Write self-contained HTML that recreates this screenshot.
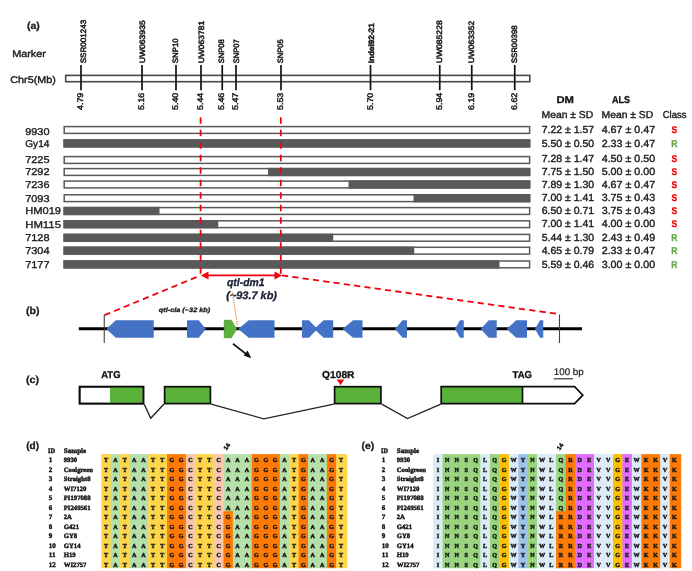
<!DOCTYPE html>
<html><head><meta charset="utf-8"><title>Figure</title>
<style>
html,body{margin:0;padding:0;background:#fff;}
body{width:692px;height:571px;overflow:hidden;}
svg{display:block;}
</style></head>
<body>
<svg width="692" height="571" viewBox="0 0 692 571" text-rendering="geometricPrecision">
<rect width="692" height="571" fill="#fff"/>
<text x="27" y="29.3" font-family='"Liberation Sans", sans-serif' font-size="10" font-weight="bold" font-style="normal" fill="#1c1c1c" text-anchor="start" textLength="12.8" lengthAdjust="spacingAndGlyphs" stroke="#1c1c1c" stroke-width="0.3">(a)</text>
<text x="12.3" y="57.3" font-family='"Liberation Sans", sans-serif' font-size="9.7" font-weight="normal" font-style="normal" fill="#1c1c1c" text-anchor="start" textLength="33.5" lengthAdjust="spacingAndGlyphs" stroke="#1c1c1c" stroke-width="0.4">Marker</text>
<text x="10.3" y="83.0" font-family='"Liberation Sans", sans-serif' font-size="9.7" font-weight="normal" font-style="normal" fill="#1c1c1c" text-anchor="start" textLength="45.5" lengthAdjust="spacingAndGlyphs" stroke="#1c1c1c" stroke-width="0.4">Chr5(Mb)</text>
<rect x="65.7" y="75.4" width="464.1" height="6.3" fill="#fff" stroke="#484848" stroke-width="1.6"/>
<line x1="81" y1="65" x2="81" y2="90.2" stroke="#111" stroke-width="1.7"/>
<text transform="translate(86.2,63.3) rotate(-90)" font-family='"Liberation Sans", sans-serif' font-size="7.8" font-weight="normal" fill="#1a1a1a" stroke="#1a1a1a" stroke-width="0.5" textLength="43.5" lengthAdjust="spacingAndGlyphs">SSR001243</text>
<text transform="translate(83.1,110) rotate(-90)" font-family='"Liberation Sans", sans-serif' font-size="8.2" font-weight="normal" fill="#1a1a1a" stroke="#1a1a1a" stroke-width="0.45" textLength="17.3" lengthAdjust="spacingAndGlyphs">4.79</text>
<line x1="142" y1="65" x2="142" y2="90.2" stroke="#111" stroke-width="1.7"/>
<text transform="translate(145.2,63.3) rotate(-90)" font-family='"Liberation Sans", sans-serif' font-size="7.8" font-weight="normal" fill="#1a1a1a" stroke="#1a1a1a" stroke-width="0.5" textLength="43" lengthAdjust="spacingAndGlyphs">UW063935</text>
<text transform="translate(144.1,110) rotate(-90)" font-family='"Liberation Sans", sans-serif' font-size="8.2" font-weight="normal" fill="#1a1a1a" stroke="#1a1a1a" stroke-width="0.45" textLength="17.3" lengthAdjust="spacingAndGlyphs">5.16</text>
<line x1="176" y1="65" x2="176" y2="90.2" stroke="#111" stroke-width="1.7"/>
<text transform="translate(178.2,63.3) rotate(-90)" font-family='"Liberation Sans", sans-serif' font-size="7.8" font-weight="normal" fill="#1a1a1a" stroke="#1a1a1a" stroke-width="0.5" textLength="25" lengthAdjust="spacingAndGlyphs">SNP10</text>
<text transform="translate(178.1,110) rotate(-90)" font-family='"Liberation Sans", sans-serif' font-size="8.2" font-weight="normal" fill="#1a1a1a" stroke="#1a1a1a" stroke-width="0.45" textLength="17.3" lengthAdjust="spacingAndGlyphs">5.40</text>
<line x1="201" y1="65" x2="201" y2="90.2" stroke="#111" stroke-width="1.7"/>
<text transform="translate(203.7,63.3) rotate(-90)" font-family='"Liberation Sans", sans-serif' font-size="7.8" font-weight="normal" fill="#1a1a1a" stroke="#1a1a1a" stroke-width="0.5" textLength="42.5" lengthAdjust="spacingAndGlyphs">UW063781</text>
<text transform="translate(203.1,110) rotate(-90)" font-family='"Liberation Sans", sans-serif' font-size="8.2" font-weight="normal" fill="#1a1a1a" stroke="#1a1a1a" stroke-width="0.45" textLength="17.3" lengthAdjust="spacingAndGlyphs">5.44</text>
<line x1="222.25" y1="65" x2="222.25" y2="90.2" stroke="#111" stroke-width="1.7"/>
<text transform="translate(223.95,63.3) rotate(-90)" font-family='"Liberation Sans", sans-serif' font-size="7.8" font-weight="normal" fill="#1a1a1a" stroke="#1a1a1a" stroke-width="0.5" textLength="24" lengthAdjust="spacingAndGlyphs">SNP08</text>
<text transform="translate(224.35,110) rotate(-90)" font-family='"Liberation Sans", sans-serif' font-size="8.2" font-weight="normal" fill="#1a1a1a" stroke="#1a1a1a" stroke-width="0.45" textLength="17.3" lengthAdjust="spacingAndGlyphs">5.46</text>
<line x1="236" y1="65" x2="236" y2="90.2" stroke="#111" stroke-width="1.7"/>
<text transform="translate(238.7,63.3) rotate(-90)" font-family='"Liberation Sans", sans-serif' font-size="7.8" font-weight="normal" fill="#1a1a1a" stroke="#1a1a1a" stroke-width="0.5" textLength="24" lengthAdjust="spacingAndGlyphs">SNP07</text>
<text transform="translate(238.1,110) rotate(-90)" font-family='"Liberation Sans", sans-serif' font-size="8.2" font-weight="normal" fill="#1a1a1a" stroke="#1a1a1a" stroke-width="0.45" textLength="17.3" lengthAdjust="spacingAndGlyphs">5.47</text>
<line x1="281" y1="65" x2="281" y2="90.2" stroke="#111" stroke-width="1.7"/>
<text transform="translate(283.2,63.3) rotate(-90)" font-family='"Liberation Sans", sans-serif' font-size="7.8" font-weight="normal" fill="#1a1a1a" stroke="#1a1a1a" stroke-width="0.5" textLength="24" lengthAdjust="spacingAndGlyphs">SNP05</text>
<text transform="translate(283.1,110) rotate(-90)" font-family='"Liberation Sans", sans-serif' font-size="8.2" font-weight="normal" fill="#1a1a1a" stroke="#1a1a1a" stroke-width="0.45" textLength="17.3" lengthAdjust="spacingAndGlyphs">5.53</text>
<line x1="370.5" y1="65" x2="370.5" y2="90.2" stroke="#111" stroke-width="1.7"/>
<text transform="translate(374.2,63.3) rotate(-90)" font-family='"Liberation Sans", sans-serif' font-size="7.8" font-weight="bold" fill="#1a1a1a" stroke="#1a1a1a" stroke-width="0.5" textLength="40" lengthAdjust="spacingAndGlyphs">Indel92-21</text>
<text transform="translate(372.6,110) rotate(-90)" font-family='"Liberation Sans", sans-serif' font-size="8.2" font-weight="normal" fill="#1a1a1a" stroke="#1a1a1a" stroke-width="0.45" textLength="17.3" lengthAdjust="spacingAndGlyphs">5.70</text>
<line x1="439.75" y1="65" x2="439.75" y2="90.2" stroke="#111" stroke-width="1.7"/>
<text transform="translate(441.95,63.3) rotate(-90)" font-family='"Liberation Sans", sans-serif' font-size="7.8" font-weight="normal" fill="#1a1a1a" stroke="#1a1a1a" stroke-width="0.5" textLength="43" lengthAdjust="spacingAndGlyphs">UW085228</text>
<text transform="translate(441.85,110) rotate(-90)" font-family='"Liberation Sans", sans-serif' font-size="8.2" font-weight="normal" fill="#1a1a1a" stroke="#1a1a1a" stroke-width="0.45" textLength="17.3" lengthAdjust="spacingAndGlyphs">5.94</text>
<line x1="471.75" y1="65" x2="471.75" y2="90.2" stroke="#111" stroke-width="1.7"/>
<text transform="translate(473.95,63.3) rotate(-90)" font-family='"Liberation Sans", sans-serif' font-size="7.8" font-weight="normal" fill="#1a1a1a" stroke="#1a1a1a" stroke-width="0.5" textLength="42.5" lengthAdjust="spacingAndGlyphs">UW063352</text>
<text transform="translate(473.85,110) rotate(-90)" font-family='"Liberation Sans", sans-serif' font-size="8.2" font-weight="normal" fill="#1a1a1a" stroke="#1a1a1a" stroke-width="0.45" textLength="17.3" lengthAdjust="spacingAndGlyphs">6.19</text>
<line x1="514.75" y1="65" x2="514.75" y2="90.2" stroke="#111" stroke-width="1.7"/>
<text transform="translate(516.95,63.3) rotate(-90)" font-family='"Liberation Sans", sans-serif' font-size="7.8" font-weight="normal" fill="#1a1a1a" stroke="#1a1a1a" stroke-width="0.5" textLength="38" lengthAdjust="spacingAndGlyphs">SSR00398</text>
<text transform="translate(516.85,110) rotate(-90)" font-family='"Liberation Sans", sans-serif' font-size="8.2" font-weight="normal" fill="#1a1a1a" stroke="#1a1a1a" stroke-width="0.45" textLength="17.3" lengthAdjust="spacingAndGlyphs">6.62</text>
<rect x="64.2" y="126.6" width="465.40000000000003" height="6.8" fill="#fff" stroke="#595959" stroke-width="1.5"/>
<text x="25.2" y="134.6" font-family='"Liberation Sans", sans-serif' font-size="9.9" font-weight="normal" font-style="normal" fill="#1c1c1c" text-anchor="start" textLength="24.3" lengthAdjust="spacingAndGlyphs" stroke="#1c1c1c" stroke-width="0.35">9930</text>
<text x="541.7" y="133.2" font-family='"Liberation Sans", sans-serif' font-size="10.3" font-weight="normal" font-style="normal" fill="#1c1c1c" text-anchor="start" textLength="52.5" lengthAdjust="spacingAndGlyphs" stroke="#1c1c1c" stroke-width="0.4">7.22 ± 1.57</text>
<text x="601.7" y="133.2" font-family='"Liberation Sans", sans-serif' font-size="10.3" font-weight="normal" font-style="normal" fill="#1c1c1c" text-anchor="start" textLength="53.5" lengthAdjust="spacingAndGlyphs" stroke="#1c1c1c" stroke-width="0.4">4.67 ± 0.47</text>
<text x="671.55" y="133.2" font-family='"Liberation Sans", sans-serif' font-size="9.8" font-weight="bold" font-style="normal" fill="#f00000" text-anchor="start" textLength="5.7" lengthAdjust="spacingAndGlyphs" stroke="#f00000" stroke-width="0.3">S</text>
<rect x="64.2" y="140.0" width="465.40000000000003" height="6.8" fill="#fff" stroke="#595959" stroke-width="1.5"/>
<rect x="63.45" y="139.25" width="466.90000000000003" height="8.3" fill="#595959"/>
<text x="25.2" y="146.70000000000002" font-family='"Liberation Sans", sans-serif' font-size="9.9" font-weight="normal" font-style="normal" fill="#1c1c1c" text-anchor="start" textLength="24.3" lengthAdjust="spacingAndGlyphs" stroke="#1c1c1c" stroke-width="0.35">Gy14</text>
<text x="541.7" y="146.6" font-family='"Liberation Sans", sans-serif' font-size="10.3" font-weight="normal" font-style="normal" fill="#1c1c1c" text-anchor="start" textLength="52.5" lengthAdjust="spacingAndGlyphs" stroke="#1c1c1c" stroke-width="0.4">5.50 ± 0.50</text>
<text x="601.7" y="146.6" font-family='"Liberation Sans", sans-serif' font-size="10.3" font-weight="normal" font-style="normal" fill="#1c1c1c" text-anchor="start" textLength="53.5" lengthAdjust="spacingAndGlyphs" stroke="#1c1c1c" stroke-width="0.4">2.33 ± 0.47</text>
<text x="671.3" y="146.6" font-family='"Liberation Sans", sans-serif' font-size="9.8" font-weight="bold" font-style="normal" fill="#6aa84f" text-anchor="start" textLength="6.2" lengthAdjust="spacingAndGlyphs" stroke="#6aa84f" stroke-width="0.3">R</text>
<rect x="64.2" y="156.6" width="465.40000000000003" height="6.8" fill="#fff" stroke="#595959" stroke-width="1.5"/>
<text x="25.2" y="162.8" font-family='"Liberation Sans", sans-serif' font-size="9.9" font-weight="normal" font-style="normal" fill="#1c1c1c" text-anchor="start" textLength="24.3" lengthAdjust="spacingAndGlyphs" stroke="#1c1c1c" stroke-width="0.35">7225</text>
<text x="541.7" y="162.1" font-family='"Liberation Sans", sans-serif' font-size="10.3" font-weight="normal" font-style="normal" fill="#1c1c1c" text-anchor="start" textLength="52.5" lengthAdjust="spacingAndGlyphs" stroke="#1c1c1c" stroke-width="0.4">7.28 ± 1.47</text>
<text x="601.7" y="162.1" font-family='"Liberation Sans", sans-serif' font-size="10.3" font-weight="normal" font-style="normal" fill="#1c1c1c" text-anchor="start" textLength="53.5" lengthAdjust="spacingAndGlyphs" stroke="#1c1c1c" stroke-width="0.4">4.50 ± 0.50</text>
<text x="671.55" y="162.1" font-family='"Liberation Sans", sans-serif' font-size="9.8" font-weight="bold" font-style="normal" fill="#f00000" text-anchor="start" textLength="5.7" lengthAdjust="spacingAndGlyphs" stroke="#f00000" stroke-width="0.3">S</text>
<rect x="64.2" y="168.6" width="465.40000000000003" height="6.8" fill="#fff" stroke="#595959" stroke-width="1.5"/>
<rect x="268" y="167.85" width="262.35" height="8.3" fill="#595959"/>
<text x="25.2" y="175.3" font-family='"Liberation Sans", sans-serif' font-size="9.9" font-weight="normal" font-style="normal" fill="#1c1c1c" text-anchor="start" textLength="24.3" lengthAdjust="spacingAndGlyphs" stroke="#1c1c1c" stroke-width="0.35">7292</text>
<text x="541.7" y="175.2" font-family='"Liberation Sans", sans-serif' font-size="10.3" font-weight="normal" font-style="normal" fill="#1c1c1c" text-anchor="start" textLength="52.5" lengthAdjust="spacingAndGlyphs" stroke="#1c1c1c" stroke-width="0.4">7.75 ± 1.50</text>
<text x="601.7" y="175.2" font-family='"Liberation Sans", sans-serif' font-size="10.3" font-weight="normal" font-style="normal" fill="#1c1c1c" text-anchor="start" textLength="53.5" lengthAdjust="spacingAndGlyphs" stroke="#1c1c1c" stroke-width="0.4">5.00 ± 0.00</text>
<text x="671.55" y="175.2" font-family='"Liberation Sans", sans-serif' font-size="9.8" font-weight="bold" font-style="normal" fill="#f00000" text-anchor="start" textLength="5.7" lengthAdjust="spacingAndGlyphs" stroke="#f00000" stroke-width="0.3">S</text>
<rect x="64.2" y="181.1" width="465.40000000000003" height="6.8" fill="#fff" stroke="#595959" stroke-width="1.5"/>
<rect x="348.5" y="180.35" width="181.85000000000002" height="8.3" fill="#595959"/>
<text x="25.2" y="188.3" font-family='"Liberation Sans", sans-serif' font-size="9.9" font-weight="normal" font-style="normal" fill="#1c1c1c" text-anchor="start" textLength="24.3" lengthAdjust="spacingAndGlyphs" stroke="#1c1c1c" stroke-width="0.35">7236</text>
<text x="541.7" y="187.7" font-family='"Liberation Sans", sans-serif' font-size="10.3" font-weight="normal" font-style="normal" fill="#1c1c1c" text-anchor="start" textLength="52.5" lengthAdjust="spacingAndGlyphs" stroke="#1c1c1c" stroke-width="0.4">7.89 ± 1.30</text>
<text x="601.7" y="187.7" font-family='"Liberation Sans", sans-serif' font-size="10.3" font-weight="normal" font-style="normal" fill="#1c1c1c" text-anchor="start" textLength="53.5" lengthAdjust="spacingAndGlyphs" stroke="#1c1c1c" stroke-width="0.4">4.67 ± 0.47</text>
<text x="671.55" y="187.7" font-family='"Liberation Sans", sans-serif' font-size="9.8" font-weight="bold" font-style="normal" fill="#f00000" text-anchor="start" textLength="5.7" lengthAdjust="spacingAndGlyphs" stroke="#f00000" stroke-width="0.3">S</text>
<rect x="64.2" y="194.79999999999998" width="465.40000000000003" height="6.8" fill="#fff" stroke="#595959" stroke-width="1.5"/>
<rect x="413.5" y="194.04999999999998" width="116.85000000000002" height="8.3" fill="#595959"/>
<text x="25.2" y="201.5" font-family='"Liberation Sans", sans-serif' font-size="9.9" font-weight="normal" font-style="normal" fill="#1c1c1c" text-anchor="start" textLength="24.3" lengthAdjust="spacingAndGlyphs" stroke="#1c1c1c" stroke-width="0.35">7093</text>
<text x="541.7" y="201.39999999999998" font-family='"Liberation Sans", sans-serif' font-size="10.3" font-weight="normal" font-style="normal" fill="#1c1c1c" text-anchor="start" textLength="52.5" lengthAdjust="spacingAndGlyphs" stroke="#1c1c1c" stroke-width="0.4">7.00 ± 1.41</text>
<text x="601.7" y="201.39999999999998" font-family='"Liberation Sans", sans-serif' font-size="10.3" font-weight="normal" font-style="normal" fill="#1c1c1c" text-anchor="start" textLength="53.5" lengthAdjust="spacingAndGlyphs" stroke="#1c1c1c" stroke-width="0.4">3.75 ± 0.43</text>
<text x="671.55" y="201.39999999999998" font-family='"Liberation Sans", sans-serif' font-size="9.8" font-weight="bold" font-style="normal" fill="#f00000" text-anchor="start" textLength="5.7" lengthAdjust="spacingAndGlyphs" stroke="#f00000" stroke-width="0.3">S</text>
<rect x="64.2" y="207.6" width="465.40000000000003" height="6.8" fill="#fff" stroke="#595959" stroke-width="1.5"/>
<rect x="63.45" y="206.85" width="96.05" height="8.3" fill="#595959"/>
<text x="25.2" y="214.3" font-family='"Liberation Sans", sans-serif' font-size="9.9" font-weight="normal" font-style="normal" fill="#1c1c1c" text-anchor="start" textLength="35.8" lengthAdjust="spacingAndGlyphs" stroke="#1c1c1c" stroke-width="0.35">HM019</text>
<text x="541.7" y="214.2" font-family='"Liberation Sans", sans-serif' font-size="10.3" font-weight="normal" font-style="normal" fill="#1c1c1c" text-anchor="start" textLength="52.5" lengthAdjust="spacingAndGlyphs" stroke="#1c1c1c" stroke-width="0.4">6.50 ± 0.71</text>
<text x="601.7" y="214.2" font-family='"Liberation Sans", sans-serif' font-size="10.3" font-weight="normal" font-style="normal" fill="#1c1c1c" text-anchor="start" textLength="53.5" lengthAdjust="spacingAndGlyphs" stroke="#1c1c1c" stroke-width="0.4">3.75 ± 0.43</text>
<text x="671.55" y="214.2" font-family='"Liberation Sans", sans-serif' font-size="9.8" font-weight="bold" font-style="normal" fill="#f00000" text-anchor="start" textLength="5.7" lengthAdjust="spacingAndGlyphs" stroke="#f00000" stroke-width="0.3">S</text>
<rect x="64.2" y="220.79999999999998" width="465.40000000000003" height="6.8" fill="#fff" stroke="#595959" stroke-width="1.5"/>
<rect x="63.45" y="220.04999999999998" width="154.8" height="8.3" fill="#595959"/>
<text x="25.2" y="227.5" font-family='"Liberation Sans", sans-serif' font-size="9.9" font-weight="normal" font-style="normal" fill="#1c1c1c" text-anchor="start" textLength="35.8" lengthAdjust="spacingAndGlyphs" stroke="#1c1c1c" stroke-width="0.35">HM115</text>
<text x="541.7" y="227.39999999999998" font-family='"Liberation Sans", sans-serif' font-size="10.3" font-weight="normal" font-style="normal" fill="#1c1c1c" text-anchor="start" textLength="52.5" lengthAdjust="spacingAndGlyphs" stroke="#1c1c1c" stroke-width="0.4">7.00 ± 1.41</text>
<text x="601.7" y="227.39999999999998" font-family='"Liberation Sans", sans-serif' font-size="10.3" font-weight="normal" font-style="normal" fill="#1c1c1c" text-anchor="start" textLength="53.5" lengthAdjust="spacingAndGlyphs" stroke="#1c1c1c" stroke-width="0.4">4.00 ± 0.00</text>
<text x="671.55" y="227.39999999999998" font-family='"Liberation Sans", sans-serif' font-size="9.8" font-weight="bold" font-style="normal" fill="#f00000" text-anchor="start" textLength="5.7" lengthAdjust="spacingAndGlyphs" stroke="#f00000" stroke-width="0.3">S</text>
<rect x="64.2" y="234.4" width="465.40000000000003" height="6.8" fill="#fff" stroke="#595959" stroke-width="1.5"/>
<rect x="63.45" y="233.65" width="269.8" height="8.3" fill="#595959"/>
<text x="25.2" y="241.10000000000002" font-family='"Liberation Sans", sans-serif' font-size="9.9" font-weight="normal" font-style="normal" fill="#1c1c1c" text-anchor="start" textLength="24.3" lengthAdjust="spacingAndGlyphs" stroke="#1c1c1c" stroke-width="0.35">7128</text>
<text x="541.7" y="241.0" font-family='"Liberation Sans", sans-serif' font-size="10.3" font-weight="normal" font-style="normal" fill="#1c1c1c" text-anchor="start" textLength="52.5" lengthAdjust="spacingAndGlyphs" stroke="#1c1c1c" stroke-width="0.4">5.44 ± 1.30</text>
<text x="601.7" y="241.0" font-family='"Liberation Sans", sans-serif' font-size="10.3" font-weight="normal" font-style="normal" fill="#1c1c1c" text-anchor="start" textLength="53.5" lengthAdjust="spacingAndGlyphs" stroke="#1c1c1c" stroke-width="0.4">2.43 ± 0.49</text>
<text x="671.3" y="241.0" font-family='"Liberation Sans", sans-serif' font-size="9.8" font-weight="bold" font-style="normal" fill="#6aa84f" text-anchor="start" textLength="6.2" lengthAdjust="spacingAndGlyphs" stroke="#6aa84f" stroke-width="0.3">R</text>
<rect x="64.2" y="247.29999999999998" width="465.40000000000003" height="6.8" fill="#fff" stroke="#595959" stroke-width="1.5"/>
<rect x="63.45" y="246.54999999999998" width="350.8" height="8.3" fill="#595959"/>
<text x="25.2" y="254.0" font-family='"Liberation Sans", sans-serif' font-size="9.9" font-weight="normal" font-style="normal" fill="#1c1c1c" text-anchor="start" textLength="24.3" lengthAdjust="spacingAndGlyphs" stroke="#1c1c1c" stroke-width="0.35">7304</text>
<text x="541.7" y="253.89999999999998" font-family='"Liberation Sans", sans-serif' font-size="10.3" font-weight="normal" font-style="normal" fill="#1c1c1c" text-anchor="start" textLength="52.5" lengthAdjust="spacingAndGlyphs" stroke="#1c1c1c" stroke-width="0.4">4.65 ± 0.79</text>
<text x="601.7" y="253.89999999999998" font-family='"Liberation Sans", sans-serif' font-size="10.3" font-weight="normal" font-style="normal" fill="#1c1c1c" text-anchor="start" textLength="53.5" lengthAdjust="spacingAndGlyphs" stroke="#1c1c1c" stroke-width="0.4">2.33 ± 0.47</text>
<text x="671.3" y="253.89999999999998" font-family='"Liberation Sans", sans-serif' font-size="9.8" font-weight="bold" font-style="normal" fill="#6aa84f" text-anchor="start" textLength="6.2" lengthAdjust="spacingAndGlyphs" stroke="#6aa84f" stroke-width="0.3">R</text>
<rect x="64.2" y="261.0" width="465.40000000000003" height="6.8" fill="#fff" stroke="#595959" stroke-width="1.5"/>
<rect x="63.45" y="260.25" width="436.05" height="8.3" fill="#595959"/>
<text x="25.2" y="267.7" font-family='"Liberation Sans", sans-serif' font-size="9.9" font-weight="normal" font-style="normal" fill="#1c1c1c" text-anchor="start" textLength="24.3" lengthAdjust="spacingAndGlyphs" stroke="#1c1c1c" stroke-width="0.35">7177</text>
<text x="541.7" y="267.59999999999997" font-family='"Liberation Sans", sans-serif' font-size="10.3" font-weight="normal" font-style="normal" fill="#1c1c1c" text-anchor="start" textLength="52.5" lengthAdjust="spacingAndGlyphs" stroke="#1c1c1c" stroke-width="0.4">5.59 ± 0.46</text>
<text x="601.7" y="267.59999999999997" font-family='"Liberation Sans", sans-serif' font-size="10.3" font-weight="normal" font-style="normal" fill="#1c1c1c" text-anchor="start" textLength="53.5" lengthAdjust="spacingAndGlyphs" stroke="#1c1c1c" stroke-width="0.4">3.00 ± 0.00</text>
<text x="671.3" y="267.59999999999997" font-family='"Liberation Sans", sans-serif' font-size="9.8" font-weight="bold" font-style="normal" fill="#6aa84f" text-anchor="start" textLength="6.2" lengthAdjust="spacingAndGlyphs" stroke="#6aa84f" stroke-width="0.3">R</text>
<text x="556.5" y="102.6" font-family='"Liberation Sans", sans-serif' font-size="10" font-weight="bold" font-style="normal" fill="#111" text-anchor="start" textLength="17.5" lengthAdjust="spacingAndGlyphs" stroke="#111" stroke-width="0.3">DM</text>
<text x="612" y="102.6" font-family='"Liberation Sans", sans-serif' font-size="10" font-weight="bold" font-style="normal" fill="#111" text-anchor="start" textLength="18" lengthAdjust="spacingAndGlyphs" stroke="#111" stroke-width="0.3">ALS</text>
<text x="541.5" y="117.6" font-family='"Liberation Sans", sans-serif' font-size="10" font-weight="normal" font-style="normal" fill="#1c1c1c" text-anchor="start" textLength="51.75" lengthAdjust="spacingAndGlyphs" stroke="#1c1c1c" stroke-width="0.4">Mean ± SD</text>
<text x="601.5" y="117.6" font-family='"Liberation Sans", sans-serif' font-size="10" font-weight="normal" font-style="normal" fill="#1c1c1c" text-anchor="start" textLength="51.75" lengthAdjust="spacingAndGlyphs" stroke="#1c1c1c" stroke-width="0.4">Mean ± SD</text>
<text x="662.75" y="117.6" font-family='"Liberation Sans", sans-serif' font-size="10" font-weight="normal" font-style="normal" fill="#1c1c1c" text-anchor="start" textLength="23.75" lengthAdjust="spacingAndGlyphs" stroke="#1c1c1c" stroke-width="0.4">Class</text>
<line x1="200.6" y1="117.2" x2="200.6" y2="275" stroke="#f2000c" stroke-width="1.8" stroke-dasharray="6.5 6"/>
<line x1="280.8" y1="117.2" x2="280.8" y2="275" stroke="#f2000c" stroke-width="1.8" stroke-dasharray="6.5 6"/>
<line x1="203" y1="275.4" x2="280" y2="275.4" stroke="#f2000c" stroke-width="1.8"/>
<polygon points="201,275.4 208.5,271.4 208.5,279.4" fill="#f2000c"/>
<polygon points="282,275.4 274.5,271.4 274.5,279.4" fill="#f2000c"/>
<line x1="104.4" y1="315.2" x2="200.6" y2="275.4" stroke="#f2000c" stroke-width="1.8" stroke-dasharray="6.2 4.2"/>
<line x1="282" y1="275.4" x2="559.5" y2="314.2" stroke="#f2000c" stroke-width="1.8" stroke-dasharray="6.2 4.2"/>
<text x="227" y="286.2" font-family='"Liberation Sans", sans-serif' font-size="11" font-weight="bold" font-style="italic" fill="#1a2036" text-anchor="start" textLength="37.5" lengthAdjust="spacingAndGlyphs" stroke="#1a2036" stroke-width="0.3">qtl-dm1</text>
<text x="226.25" y="299.4" font-family='"Liberation Sans", sans-serif' font-size="11" font-weight="bold" font-style="italic" fill="#1a2036" text-anchor="start" textLength="50.75" lengthAdjust="spacingAndGlyphs" stroke="#1a2036" stroke-width="0.3">(~93.7 kb)</text>
<text x="26" y="314.0" font-family='"Liberation Sans", sans-serif' font-size="10" font-weight="bold" font-style="normal" fill="#1c1c1c" text-anchor="start" textLength="13.5" lengthAdjust="spacingAndGlyphs" stroke="#1c1c1c" stroke-width="0.3">(b)</text>
<line x1="78.75" y1="328.75" x2="582" y2="328.75" stroke="#000" stroke-width="3"/>
<line x1="104.25" y1="314.5" x2="104.25" y2="343" stroke="#404040" stroke-width="1.1"/>
<line x1="559.5" y1="314.5" x2="559.5" y2="343" stroke="#404040" stroke-width="1.1"/>
<polygon points="106.4,329.0 115.75,320.3 153.75,320.3 153.75,337.7 115.75,337.7" fill="#4472c4"/>
<polygon points="187,320.3 198.75,320.3 205.75,329.0 198.75,337.7 187,337.7" fill="#4472c4"/>
<polygon points="224.25,320.3 231.25,320.3 236.5,329.0 231.25,337.7 224.25,337.7" fill="#5bb23a" stroke="#4a9a2e" stroke-width="0.8"/>
<polygon points="238.25,329.0 248.75,320.3 274.5,320.3 274.5,337.7 248.75,337.7" fill="#4472c4"/>
<polygon points="302,320.3 309,320.3 315.8,327.5 323.6,320.3 333.2,320.3 333.2,337.7 323.6,337.7 315.8,330.5 309,337.7 302,337.7" fill="#4472c4"/>
<polygon points="342.5,329.0 353,320.3 362.5,320.3 362.5,337.7 353,337.7" fill="#4472c4"/>
<polygon points="395,329.0 402.5,320.3 407,320.3 407,337.7 402.5,337.7" fill="#4472c4"/>
<polygon points="455,329.0 460,320.3 463.75,320.3 463.75,337.7 460,337.7" fill="#4472c4"/>
<polygon points="480.75,329.0 488.75,320.3 496.75,320.3 496.75,337.7 488.75,337.7" fill="#4472c4"/>
<polygon points="506.75,329.0 516.25,320.3 527,320.3 527,337.7 516.25,337.7" fill="#4472c4"/>
<polygon points="535,329.0 540,320.3 543.25,320.3 543.25,337.7 540,337.7" fill="#4472c4"/>
<text x="158.75" y="311.5" font-family='"Liberation Sans", sans-serif' font-size="6.3" font-weight="bold" font-style="italic" fill="#1a1a1a" text-anchor="start" textLength="51.5" lengthAdjust="spacingAndGlyphs" stroke="#1a1a1a" stroke-width="0.3">qtl-cla (~32 kb)</text>
<line x1="232.5" y1="292.5" x2="237.5" y2="326" stroke="#ed7d31" stroke-width="1.3" stroke-dasharray="1.3 1.1"/>
<line x1="233" y1="343.75" x2="247.5" y2="355.2" stroke="#111" stroke-width="1.6"/>
<polygon points="251.3,358.2 243.6,355.6 247.6,350.6" fill="#111"/>
<text x="26" y="383.2" font-family='"Liberation Sans", sans-serif' font-size="10" font-weight="bold" font-style="normal" fill="#1c1c1c" text-anchor="start" textLength="13" lengthAdjust="spacingAndGlyphs" stroke="#1c1c1c" stroke-width="0.3">(c)</text>
<text x="101.25" y="378.0" font-family='"Liberation Sans", sans-serif' font-size="10" font-weight="bold" font-style="normal" fill="#111" text-anchor="start" textLength="19.25" lengthAdjust="spacingAndGlyphs" stroke="#111" stroke-width="0.3">ATG</text>
<text x="322" y="378.0" font-family='"Liberation Sans", sans-serif' font-size="10" font-weight="bold" font-style="normal" fill="#111" text-anchor="start" textLength="32.5" lengthAdjust="spacingAndGlyphs" stroke="#111" stroke-width="0.3">Q108R</text>
<text x="512.5" y="378.0" font-family='"Liberation Sans", sans-serif' font-size="10" font-weight="bold" font-style="normal" fill="#111" text-anchor="start" textLength="19.5" lengthAdjust="spacingAndGlyphs" stroke="#111" stroke-width="0.3">TAG</text>
<text x="553.75" y="375.2" font-family='"Liberation Sans", sans-serif' font-size="9.6" font-weight="normal" font-style="normal" fill="#1c1c1c" text-anchor="start" textLength="30" lengthAdjust="spacingAndGlyphs" stroke="#1c1c1c" stroke-width="0.2">100 bp</text>
<line x1="553.75" y1="378.8" x2="573" y2="378.8" stroke="#222" stroke-width="1.1"/>
<polygon points="336.75,379.5 344.25,379.5 340.5,385.2" fill="#f2000c"/>
<rect x="79.6" y="386.7" width="63.80000000000001" height="16.900000000000034" fill="#fff" stroke="#0d0d0d" stroke-width="1.7"/>
<rect x="110" y="386.7" width="32.55000000000001" height="16.900000000000034" fill="#5bb23a"/>
<rect x="79.6" y="386.7" width="63.80000000000001" height="16.900000000000034" fill="none" stroke="#0d0d0d" stroke-width="1.7"/>
<rect x="164.6" y="386.7" width="45.80000000000001" height="16.900000000000034" fill="#5bb23a" stroke="#0d0d0d" stroke-width="1.7"/>
<rect x="334.6" y="386.7" width="46.299999999999955" height="16.900000000000034" fill="#5bb23a" stroke="#0d0d0d" stroke-width="1.7"/>
<rect x="441.2" y="386.7" width="81.30000000000001" height="16.900000000000034" fill="#5bb23a"/>
<polygon points="441.2,386.7 574.6,386.7 582.8,395.15 574.6,403.6 441.2,403.6" fill="none" stroke="#0d0d0d" stroke-width="1.7" stroke-linejoin="miter"/>
<line x1="522.5" y1="386.7" x2="522.5" y2="403.6" stroke="#0d0d0d" stroke-width="1.7"/>
<polyline points="144.2,404.2 150.75,418.3 163.8,404.2" fill="none" stroke="#222" stroke-width="1.35"/>
<polyline points="211.2,404.2 263.75,418.8 333.8,404.2" fill="none" stroke="#222" stroke-width="1.35"/>
<polyline points="381.7,404.2 407.5,418.5 440.8,404.2" fill="none" stroke="#222" stroke-width="1.35"/>
<text x="26.25" y="449.0" font-family='"Liberation Sans", sans-serif' font-size="10" font-weight="bold" font-style="normal" fill="#1c1c1c" text-anchor="start" textLength="12.8" lengthAdjust="spacingAndGlyphs" stroke="#1c1c1c" stroke-width="0.3">(d)</text>
<text x="48" y="452.5" font-family='"Liberation Serif", serif' font-size="7" font-weight="bold" font-style="normal" fill="#111" text-anchor="start" textLength="7" lengthAdjust="spacingAndGlyphs" stroke="#111" stroke-width="0.4">ID</text>
<text x="63.75" y="452.5" font-family='"Liberation Serif", serif' font-size="7" font-weight="bold" font-style="normal" fill="#111" text-anchor="start" textLength="22.5" lengthAdjust="spacingAndGlyphs" stroke="#111" stroke-width="0.4">Sample</text>
<rect x="101.25" y="454.10" width="9.80" height="114.10" fill="#ffd54a"/>
<rect x="110.65" y="454.10" width="9.80" height="114.10" fill="#b5e0a9"/>
<rect x="120.05" y="454.10" width="9.80" height="114.10" fill="#ffd54a"/>
<rect x="129.45" y="454.10" width="19.20" height="114.10" fill="#b5e0a9"/>
<rect x="148.25" y="454.10" width="19.20" height="114.10" fill="#ffd54a"/>
<rect x="167.05" y="454.10" width="19.20" height="114.10" fill="#ff7a05"/>
<rect x="185.85" y="454.10" width="9.80" height="114.10" fill="#f9c8ad"/>
<rect x="195.25" y="454.10" width="19.20" height="114.10" fill="#ffd54a"/>
<rect x="214.05" y="454.10" width="9.80" height="114.10" fill="#f9c8ad"/>
<rect x="223.45" y="454.10" width="28.60" height="114.10" fill="#b5e0a9"/>
<rect x="251.65" y="454.10" width="28.60" height="114.10" fill="#ff7a05"/>
<rect x="279.85" y="454.10" width="9.80" height="114.10" fill="#b5e0a9"/>
<rect x="289.25" y="454.10" width="9.80" height="114.10" fill="#ffd54a"/>
<rect x="298.65" y="454.10" width="9.80" height="114.10" fill="#ff7a05"/>
<rect x="308.05" y="454.10" width="19.20" height="114.10" fill="#b5e0a9"/>
<rect x="326.85" y="454.10" width="9.80" height="114.10" fill="#ff7a05"/>
<rect x="336.25" y="454.10" width="10.95" height="114.10" fill="#ffd54a"/>
<rect x="223.45" y="511.15" width="9.40" height="57.05" fill="#ff7a05"/>
<text x="48.8" y="462.0541666666667" font-family='"Liberation Serif", serif' font-size="7" font-weight="bold" font-style="normal" fill="#111" text-anchor="start" stroke="#111" stroke-width="0.4">1</text>
<text x="63.75" y="462.0541666666667" font-family='"Liberation Serif", serif' font-size="6.7" font-weight="bold" font-style="normal" fill="#111" text-anchor="start" stroke="#111" stroke-width="0.4">9930</text>
<text y="462.05" x="105.95 115.35 124.75 134.15 143.55 152.95 162.35 171.75 181.15 190.55 199.95 209.35 218.75 228.15 237.55 246.95 256.35 265.75 275.15 284.55 293.95 303.35 312.75 322.15 331.55 340.95" font-family='"Liberation Serif", serif' font-size="6.1" font-weight="bold" fill="#1a1a1a" stroke="#1a1a1a" stroke-width="0.45" text-anchor="middle">TATAATTGGCTTCAAAGGGATGAAGT</text>
<text x="48.8" y="471.5625" font-family='"Liberation Serif", serif' font-size="7" font-weight="bold" font-style="normal" fill="#111" text-anchor="start" stroke="#111" stroke-width="0.4">2</text>
<text x="63.75" y="471.5625" font-family='"Liberation Serif", serif' font-size="6.7" font-weight="bold" font-style="normal" fill="#111" text-anchor="start" stroke="#111" stroke-width="0.4">Coolgreen</text>
<text y="471.56" x="105.95 115.35 124.75 134.15 143.55 152.95 162.35 171.75 181.15 190.55 199.95 209.35 218.75 228.15 237.55 246.95 256.35 265.75 275.15 284.55 293.95 303.35 312.75 322.15 331.55 340.95" font-family='"Liberation Serif", serif' font-size="6.1" font-weight="bold" fill="#1a1a1a" stroke="#1a1a1a" stroke-width="0.45" text-anchor="middle">TATAATTGGCTTCAAAGGGATGAAGT</text>
<text x="48.8" y="481.0708333333333" font-family='"Liberation Serif", serif' font-size="7" font-weight="bold" font-style="normal" fill="#111" text-anchor="start" stroke="#111" stroke-width="0.4">3</text>
<text x="63.75" y="481.0708333333333" font-family='"Liberation Serif", serif' font-size="6.7" font-weight="bold" font-style="normal" fill="#111" text-anchor="start" stroke="#111" stroke-width="0.4">Straight8</text>
<text y="481.07" x="105.95 115.35 124.75 134.15 143.55 152.95 162.35 171.75 181.15 190.55 199.95 209.35 218.75 228.15 237.55 246.95 256.35 265.75 275.15 284.55 293.95 303.35 312.75 322.15 331.55 340.95" font-family='"Liberation Serif", serif' font-size="6.1" font-weight="bold" fill="#1a1a1a" stroke="#1a1a1a" stroke-width="0.45" text-anchor="middle">TATAATTGGCTTCAAAGGGATGAAGT</text>
<text x="48.8" y="490.57916666666665" font-family='"Liberation Serif", serif' font-size="7" font-weight="bold" font-style="normal" fill="#111" text-anchor="start" stroke="#111" stroke-width="0.4">4</text>
<text x="63.75" y="490.57916666666665" font-family='"Liberation Serif", serif' font-size="6.7" font-weight="bold" font-style="normal" fill="#111" text-anchor="start" stroke="#111" stroke-width="0.4">WI7120</text>
<text y="490.58" x="105.95 115.35 124.75 134.15 143.55 152.95 162.35 171.75 181.15 190.55 199.95 209.35 218.75 228.15 237.55 246.95 256.35 265.75 275.15 284.55 293.95 303.35 312.75 322.15 331.55 340.95" font-family='"Liberation Serif", serif' font-size="6.1" font-weight="bold" fill="#1a1a1a" stroke="#1a1a1a" stroke-width="0.45" text-anchor="middle">TATAATTGGCTTCAAAGGGATGAAGT</text>
<text x="48.8" y="500.08750000000003" font-family='"Liberation Serif", serif' font-size="7" font-weight="bold" font-style="normal" fill="#111" text-anchor="start" stroke="#111" stroke-width="0.4">5</text>
<text x="63.75" y="500.08750000000003" font-family='"Liberation Serif", serif' font-size="6.7" font-weight="bold" font-style="normal" fill="#111" text-anchor="start" stroke="#111" stroke-width="0.4">PI197088</text>
<text y="500.09" x="105.95 115.35 124.75 134.15 143.55 152.95 162.35 171.75 181.15 190.55 199.95 209.35 218.75 228.15 237.55 246.95 256.35 265.75 275.15 284.55 293.95 303.35 312.75 322.15 331.55 340.95" font-family='"Liberation Serif", serif' font-size="6.1" font-weight="bold" fill="#1a1a1a" stroke="#1a1a1a" stroke-width="0.45" text-anchor="middle">TATAATTGGCTTCAAAGGGATGAAGT</text>
<text x="48.8" y="509.59583333333336" font-family='"Liberation Serif", serif' font-size="7" font-weight="bold" font-style="normal" fill="#111" text-anchor="start" stroke="#111" stroke-width="0.4">6</text>
<text x="63.75" y="509.59583333333336" font-family='"Liberation Serif", serif' font-size="6.7" font-weight="bold" font-style="normal" fill="#111" text-anchor="start" stroke="#111" stroke-width="0.4">PI249561</text>
<text y="509.60" x="105.95 115.35 124.75 134.15 143.55 152.95 162.35 171.75 181.15 190.55 199.95 209.35 218.75 228.15 237.55 246.95 256.35 265.75 275.15 284.55 293.95 303.35 312.75 322.15 331.55 340.95" font-family='"Liberation Serif", serif' font-size="6.1" font-weight="bold" fill="#1a1a1a" stroke="#1a1a1a" stroke-width="0.45" text-anchor="middle">TATAATTGGCTTCAAAGGGATGAAGT</text>
<text x="48.8" y="519.1041666666667" font-family='"Liberation Serif", serif' font-size="7" font-weight="bold" font-style="normal" fill="#111" text-anchor="start" stroke="#111" stroke-width="0.4">7</text>
<text x="63.75" y="519.1041666666667" font-family='"Liberation Serif", serif' font-size="6.7" font-weight="bold" font-style="normal" fill="#111" text-anchor="start" stroke="#111" stroke-width="0.4">2A</text>
<text y="519.10" x="105.95 115.35 124.75 134.15 143.55 152.95 162.35 171.75 181.15 190.55 199.95 209.35 218.75 228.15 237.55 246.95 256.35 265.75 275.15 284.55 293.95 303.35 312.75 322.15 331.55 340.95" font-family='"Liberation Serif", serif' font-size="6.1" font-weight="bold" fill="#1a1a1a" stroke="#1a1a1a" stroke-width="0.45" text-anchor="middle">TATAATTGGCTTCGAAGGGATGAAGT</text>
<text x="48.8" y="528.6125000000001" font-family='"Liberation Serif", serif' font-size="7" font-weight="bold" font-style="normal" fill="#111" text-anchor="start" stroke="#111" stroke-width="0.4">8</text>
<text x="63.75" y="528.6125000000001" font-family='"Liberation Serif", serif' font-size="6.7" font-weight="bold" font-style="normal" fill="#111" text-anchor="start" stroke="#111" stroke-width="0.4">G421</text>
<text y="528.61" x="105.95 115.35 124.75 134.15 143.55 152.95 162.35 171.75 181.15 190.55 199.95 209.35 218.75 228.15 237.55 246.95 256.35 265.75 275.15 284.55 293.95 303.35 312.75 322.15 331.55 340.95" font-family='"Liberation Serif", serif' font-size="6.1" font-weight="bold" fill="#1a1a1a" stroke="#1a1a1a" stroke-width="0.45" text-anchor="middle">TATAATTGGCTTCGAAGGGATGAAGT</text>
<text x="48.8" y="538.1208333333335" font-family='"Liberation Serif", serif' font-size="7" font-weight="bold" font-style="normal" fill="#111" text-anchor="start" stroke="#111" stroke-width="0.4">9</text>
<text x="63.75" y="538.1208333333335" font-family='"Liberation Serif", serif' font-size="6.7" font-weight="bold" font-style="normal" fill="#111" text-anchor="start" stroke="#111" stroke-width="0.4">GY8</text>
<text y="538.12" x="105.95 115.35 124.75 134.15 143.55 152.95 162.35 171.75 181.15 190.55 199.95 209.35 218.75 228.15 237.55 246.95 256.35 265.75 275.15 284.55 293.95 303.35 312.75 322.15 331.55 340.95" font-family='"Liberation Serif", serif' font-size="6.1" font-weight="bold" fill="#1a1a1a" stroke="#1a1a1a" stroke-width="0.45" text-anchor="middle">TATAATTGGCTTCGAAGGGATGAAGT</text>
<text x="48.8" y="547.6291666666668" font-family='"Liberation Serif", serif' font-size="7" font-weight="bold" font-style="normal" fill="#111" text-anchor="start" stroke="#111" stroke-width="0.4">10</text>
<text x="63.75" y="547.6291666666668" font-family='"Liberation Serif", serif' font-size="6.7" font-weight="bold" font-style="normal" fill="#111" text-anchor="start" stroke="#111" stroke-width="0.4">GY14</text>
<text y="547.63" x="105.95 115.35 124.75 134.15 143.55 152.95 162.35 171.75 181.15 190.55 199.95 209.35 218.75 228.15 237.55 246.95 256.35 265.75 275.15 284.55 293.95 303.35 312.75 322.15 331.55 340.95" font-family='"Liberation Serif", serif' font-size="6.1" font-weight="bold" fill="#1a1a1a" stroke="#1a1a1a" stroke-width="0.45" text-anchor="middle">TATAATTGGCTTCGAAGGGATGAAGT</text>
<text x="48.8" y="557.1375000000002" font-family='"Liberation Serif", serif' font-size="7" font-weight="bold" font-style="normal" fill="#111" text-anchor="start" stroke="#111" stroke-width="0.4">11</text>
<text x="63.75" y="557.1375000000002" font-family='"Liberation Serif", serif' font-size="6.7" font-weight="bold" font-style="normal" fill="#111" text-anchor="start" stroke="#111" stroke-width="0.4">H19</text>
<text y="557.14" x="105.95 115.35 124.75 134.15 143.55 152.95 162.35 171.75 181.15 190.55 199.95 209.35 218.75 228.15 237.55 246.95 256.35 265.75 275.15 284.55 293.95 303.35 312.75 322.15 331.55 340.95" font-family='"Liberation Serif", serif' font-size="6.1" font-weight="bold" fill="#1a1a1a" stroke="#1a1a1a" stroke-width="0.45" text-anchor="middle">TATAATTGGCTTCGAAGGGATGAAGT</text>
<text x="48.8" y="566.6458333333335" font-family='"Liberation Serif", serif' font-size="7" font-weight="bold" font-style="normal" fill="#111" text-anchor="start" stroke="#111" stroke-width="0.4">12</text>
<text x="63.75" y="566.6458333333335" font-family='"Liberation Serif", serif' font-size="6.7" font-weight="bold" font-style="normal" fill="#111" text-anchor="start" stroke="#111" stroke-width="0.4">WI2757</text>
<text y="566.65" x="105.95 115.35 124.75 134.15 143.55 152.95 162.35 171.75 181.15 190.55 199.95 209.35 218.75 228.15 237.55 246.95 256.35 265.75 275.15 284.55 293.95 303.35 312.75 322.15 331.55 340.95" font-family='"Liberation Serif", serif' font-size="6.1" font-weight="bold" fill="#1a1a1a" stroke="#1a1a1a" stroke-width="0.45" text-anchor="middle">TATAATTGGCTTCGAAGGGATGAAGT</text>
<text transform="translate(226.5,450.6) rotate(-55)" font-family='"Liberation Sans", sans-serif' font-size="6" font-weight="bold" fill="#222" stroke="#222" stroke-width="0.5">14</text>
<text x="361.5" y="449.0" font-family='"Liberation Sans", sans-serif' font-size="10" font-weight="bold" font-style="normal" fill="#1c1c1c" text-anchor="start" textLength="12.8" lengthAdjust="spacingAndGlyphs" stroke="#1c1c1c" stroke-width="0.3">(e)</text>
<text x="381" y="452.5" font-family='"Liberation Serif", serif' font-size="7" font-weight="bold" font-style="normal" fill="#111" text-anchor="start" textLength="7" lengthAdjust="spacingAndGlyphs" stroke="#111" stroke-width="0.4">ID</text>
<text x="396.75" y="452.5" font-family='"Liberation Serif", serif' font-size="7" font-weight="bold" font-style="normal" fill="#111" text-anchor="start" textLength="22.5" lengthAdjust="spacingAndGlyphs" stroke="#111" stroke-width="0.4">Sample</text>
<rect x="433.10" y="454.10" width="9.86" height="114.10" fill="#dcebf7"/>
<rect x="442.56" y="454.10" width="38.26" height="114.10" fill="#9bd47f"/>
<rect x="480.43" y="454.10" width="9.87" height="114.10" fill="#dcebf7"/>
<rect x="489.89" y="454.10" width="9.86" height="114.10" fill="#9bd47f"/>
<rect x="499.36" y="454.10" width="9.87" height="114.10" fill="#ffc000"/>
<rect x="508.82" y="454.10" width="9.87" height="114.10" fill="#dcebf7"/>
<rect x="518.29" y="454.10" width="9.86" height="114.10" fill="#9cc4e8"/>
<rect x="527.75" y="454.10" width="9.87" height="114.10" fill="#9bd47f"/>
<rect x="537.22" y="454.10" width="19.33" height="114.10" fill="#dcebf7"/>
<rect x="556.14" y="454.10" width="9.87" height="114.10" fill="#9bd47f"/>
<rect x="565.61" y="454.10" width="9.87" height="114.10" fill="#ff7a05"/>
<rect x="575.08" y="454.10" width="19.33" height="114.10" fill="#e46bff"/>
<rect x="594.00" y="454.10" width="19.33" height="114.10" fill="#dcebf7"/>
<rect x="612.94" y="454.10" width="9.87" height="114.10" fill="#ffc000"/>
<rect x="622.40" y="454.10" width="9.86" height="114.10" fill="#e46bff"/>
<rect x="631.87" y="454.10" width="9.87" height="114.10" fill="#dcebf7"/>
<rect x="641.33" y="454.10" width="19.33" height="114.10" fill="#ff7a05"/>
<rect x="660.26" y="454.10" width="9.87" height="114.10" fill="#dcebf7"/>
<rect x="669.73" y="454.10" width="11.48" height="114.10" fill="#ff7a05"/>
<rect x="556.14" y="511.15" width="9.47" height="57.05" fill="#ff7a05"/>
<text x="381.8" y="462.0541666666667" font-family='"Liberation Serif", serif' font-size="7" font-weight="bold" font-style="normal" fill="#111" text-anchor="start" stroke="#111" stroke-width="0.4">1</text>
<text x="396.75" y="462.0541666666667" font-family='"Liberation Serif", serif' font-size="6.7" font-weight="bold" font-style="normal" fill="#111" text-anchor="start" stroke="#111" stroke-width="0.4">9930</text>
<text y="462.05" x="437.83 447.30 456.76 466.23 475.69 485.16 494.62 504.09 513.55 523.02 532.48 541.95 551.41 560.88 570.34 579.81 589.27 598.74 608.20 617.67 627.13 636.60 646.06 655.53 664.99 674.46" font-family='"Liberation Serif", serif' font-size="6.1" font-weight="bold" fill="#1a1a1a" stroke="#1a1a1a" stroke-width="0.45" text-anchor="middle">INNSQLQGWYNWLQRDEVVGEWKKVK</text>
<text x="381.8" y="471.5625" font-family='"Liberation Serif", serif' font-size="7" font-weight="bold" font-style="normal" fill="#111" text-anchor="start" stroke="#111" stroke-width="0.4">2</text>
<text x="396.75" y="471.5625" font-family='"Liberation Serif", serif' font-size="6.7" font-weight="bold" font-style="normal" fill="#111" text-anchor="start" stroke="#111" stroke-width="0.4">Coolgreen</text>
<text y="471.56" x="437.83 447.30 456.76 466.23 475.69 485.16 494.62 504.09 513.55 523.02 532.48 541.95 551.41 560.88 570.34 579.81 589.27 598.74 608.20 617.67 627.13 636.60 646.06 655.53 664.99 674.46" font-family='"Liberation Serif", serif' font-size="6.1" font-weight="bold" fill="#1a1a1a" stroke="#1a1a1a" stroke-width="0.45" text-anchor="middle">INNSQLQGWYNWLQRDEVVGEWKKVK</text>
<text x="381.8" y="481.0708333333333" font-family='"Liberation Serif", serif' font-size="7" font-weight="bold" font-style="normal" fill="#111" text-anchor="start" stroke="#111" stroke-width="0.4">3</text>
<text x="396.75" y="481.0708333333333" font-family='"Liberation Serif", serif' font-size="6.7" font-weight="bold" font-style="normal" fill="#111" text-anchor="start" stroke="#111" stroke-width="0.4">Straight8</text>
<text y="481.07" x="437.83 447.30 456.76 466.23 475.69 485.16 494.62 504.09 513.55 523.02 532.48 541.95 551.41 560.88 570.34 579.81 589.27 598.74 608.20 617.67 627.13 636.60 646.06 655.53 664.99 674.46" font-family='"Liberation Serif", serif' font-size="6.1" font-weight="bold" fill="#1a1a1a" stroke="#1a1a1a" stroke-width="0.45" text-anchor="middle">INNSQLQGWYNWLQRDEVVGEWKKVK</text>
<text x="381.8" y="490.57916666666665" font-family='"Liberation Serif", serif' font-size="7" font-weight="bold" font-style="normal" fill="#111" text-anchor="start" stroke="#111" stroke-width="0.4">4</text>
<text x="396.75" y="490.57916666666665" font-family='"Liberation Serif", serif' font-size="6.7" font-weight="bold" font-style="normal" fill="#111" text-anchor="start" stroke="#111" stroke-width="0.4">WI7120</text>
<text y="490.58" x="437.83 447.30 456.76 466.23 475.69 485.16 494.62 504.09 513.55 523.02 532.48 541.95 551.41 560.88 570.34 579.81 589.27 598.74 608.20 617.67 627.13 636.60 646.06 655.53 664.99 674.46" font-family='"Liberation Serif", serif' font-size="6.1" font-weight="bold" fill="#1a1a1a" stroke="#1a1a1a" stroke-width="0.45" text-anchor="middle">INNSQLQGWYNWLQRDEVVGEWKKVK</text>
<text x="381.8" y="500.08750000000003" font-family='"Liberation Serif", serif' font-size="7" font-weight="bold" font-style="normal" fill="#111" text-anchor="start" stroke="#111" stroke-width="0.4">5</text>
<text x="396.75" y="500.08750000000003" font-family='"Liberation Serif", serif' font-size="6.7" font-weight="bold" font-style="normal" fill="#111" text-anchor="start" stroke="#111" stroke-width="0.4">PI197088</text>
<text y="500.09" x="437.83 447.30 456.76 466.23 475.69 485.16 494.62 504.09 513.55 523.02 532.48 541.95 551.41 560.88 570.34 579.81 589.27 598.74 608.20 617.67 627.13 636.60 646.06 655.53 664.99 674.46" font-family='"Liberation Serif", serif' font-size="6.1" font-weight="bold" fill="#1a1a1a" stroke="#1a1a1a" stroke-width="0.45" text-anchor="middle">INNSQLQGWYNWLQRDEVVGEWKKVK</text>
<text x="381.8" y="509.59583333333336" font-family='"Liberation Serif", serif' font-size="7" font-weight="bold" font-style="normal" fill="#111" text-anchor="start" stroke="#111" stroke-width="0.4">6</text>
<text x="396.75" y="509.59583333333336" font-family='"Liberation Serif", serif' font-size="6.7" font-weight="bold" font-style="normal" fill="#111" text-anchor="start" stroke="#111" stroke-width="0.4">PI249561</text>
<text y="509.60" x="437.83 447.30 456.76 466.23 475.69 485.16 494.62 504.09 513.55 523.02 532.48 541.95 551.41 560.88 570.34 579.81 589.27 598.74 608.20 617.67 627.13 636.60 646.06 655.53 664.99 674.46" font-family='"Liberation Serif", serif' font-size="6.1" font-weight="bold" fill="#1a1a1a" stroke="#1a1a1a" stroke-width="0.45" text-anchor="middle">INNSQLQGWYNWLQRDEVVGEWKKVK</text>
<text x="381.8" y="519.1041666666667" font-family='"Liberation Serif", serif' font-size="7" font-weight="bold" font-style="normal" fill="#111" text-anchor="start" stroke="#111" stroke-width="0.4">7</text>
<text x="396.75" y="519.1041666666667" font-family='"Liberation Serif", serif' font-size="6.7" font-weight="bold" font-style="normal" fill="#111" text-anchor="start" stroke="#111" stroke-width="0.4">2A</text>
<text y="519.10" x="437.83 447.30 456.76 466.23 475.69 485.16 494.62 504.09 513.55 523.02 532.48 541.95 551.41 560.88 570.34 579.81 589.27 598.74 608.20 617.67 627.13 636.60 646.06 655.53 664.99 674.46" font-family='"Liberation Serif", serif' font-size="6.1" font-weight="bold" fill="#1a1a1a" stroke="#1a1a1a" stroke-width="0.45" text-anchor="middle">INNSQLQGWYNWLRRDEVVGEWKKVK</text>
<text x="381.8" y="528.6125000000001" font-family='"Liberation Serif", serif' font-size="7" font-weight="bold" font-style="normal" fill="#111" text-anchor="start" stroke="#111" stroke-width="0.4">8</text>
<text x="396.75" y="528.6125000000001" font-family='"Liberation Serif", serif' font-size="6.7" font-weight="bold" font-style="normal" fill="#111" text-anchor="start" stroke="#111" stroke-width="0.4">G421</text>
<text y="528.61" x="437.83 447.30 456.76 466.23 475.69 485.16 494.62 504.09 513.55 523.02 532.48 541.95 551.41 560.88 570.34 579.81 589.27 598.74 608.20 617.67 627.13 636.60 646.06 655.53 664.99 674.46" font-family='"Liberation Serif", serif' font-size="6.1" font-weight="bold" fill="#1a1a1a" stroke="#1a1a1a" stroke-width="0.45" text-anchor="middle">INNSQLQGWYNWLRRDEVVGEWKKVK</text>
<text x="381.8" y="538.1208333333335" font-family='"Liberation Serif", serif' font-size="7" font-weight="bold" font-style="normal" fill="#111" text-anchor="start" stroke="#111" stroke-width="0.4">9</text>
<text x="396.75" y="538.1208333333335" font-family='"Liberation Serif", serif' font-size="6.7" font-weight="bold" font-style="normal" fill="#111" text-anchor="start" stroke="#111" stroke-width="0.4">GY8</text>
<text y="538.12" x="437.83 447.30 456.76 466.23 475.69 485.16 494.62 504.09 513.55 523.02 532.48 541.95 551.41 560.88 570.34 579.81 589.27 598.74 608.20 617.67 627.13 636.60 646.06 655.53 664.99 674.46" font-family='"Liberation Serif", serif' font-size="6.1" font-weight="bold" fill="#1a1a1a" stroke="#1a1a1a" stroke-width="0.45" text-anchor="middle">INNSQLQGWYNWLRRDEVVGEWKKVK</text>
<text x="381.8" y="547.6291666666668" font-family='"Liberation Serif", serif' font-size="7" font-weight="bold" font-style="normal" fill="#111" text-anchor="start" stroke="#111" stroke-width="0.4">10</text>
<text x="396.75" y="547.6291666666668" font-family='"Liberation Serif", serif' font-size="6.7" font-weight="bold" font-style="normal" fill="#111" text-anchor="start" stroke="#111" stroke-width="0.4">GY14</text>
<text y="547.63" x="437.83 447.30 456.76 466.23 475.69 485.16 494.62 504.09 513.55 523.02 532.48 541.95 551.41 560.88 570.34 579.81 589.27 598.74 608.20 617.67 627.13 636.60 646.06 655.53 664.99 674.46" font-family='"Liberation Serif", serif' font-size="6.1" font-weight="bold" fill="#1a1a1a" stroke="#1a1a1a" stroke-width="0.45" text-anchor="middle">INNSQLQGWYNWLRRDEVVGEWKKVK</text>
<text x="381.8" y="557.1375000000002" font-family='"Liberation Serif", serif' font-size="7" font-weight="bold" font-style="normal" fill="#111" text-anchor="start" stroke="#111" stroke-width="0.4">11</text>
<text x="396.75" y="557.1375000000002" font-family='"Liberation Serif", serif' font-size="6.7" font-weight="bold" font-style="normal" fill="#111" text-anchor="start" stroke="#111" stroke-width="0.4">H19</text>
<text y="557.14" x="437.83 447.30 456.76 466.23 475.69 485.16 494.62 504.09 513.55 523.02 532.48 541.95 551.41 560.88 570.34 579.81 589.27 598.74 608.20 617.67 627.13 636.60 646.06 655.53 664.99 674.46" font-family='"Liberation Serif", serif' font-size="6.1" font-weight="bold" fill="#1a1a1a" stroke="#1a1a1a" stroke-width="0.45" text-anchor="middle">INNSQLQGWYNWLRRDEVVGEWKKVK</text>
<text x="381.8" y="566.6458333333335" font-family='"Liberation Serif", serif' font-size="7" font-weight="bold" font-style="normal" fill="#111" text-anchor="start" stroke="#111" stroke-width="0.4">12</text>
<text x="396.75" y="566.6458333333335" font-family='"Liberation Serif", serif' font-size="6.7" font-weight="bold" font-style="normal" fill="#111" text-anchor="start" stroke="#111" stroke-width="0.4">WI2757</text>
<text y="566.65" x="437.83 447.30 456.76 466.23 475.69 485.16 494.62 504.09 513.55 523.02 532.48 541.95 551.41 560.88 570.34 579.81 589.27 598.74 608.20 617.67 627.13 636.60 646.06 655.53 664.99 674.46" font-family='"Liberation Serif", serif' font-size="6.1" font-weight="bold" fill="#1a1a1a" stroke="#1a1a1a" stroke-width="0.45" text-anchor="middle">INNSQLQGWYNWLRRDEVVGEWKKVK</text>
<text transform="translate(559.8,450.6) rotate(-55)" font-family='"Liberation Sans", sans-serif' font-size="6" font-weight="bold" fill="#222" stroke="#222" stroke-width="0.5">14</text>
</svg>
</body></html>
